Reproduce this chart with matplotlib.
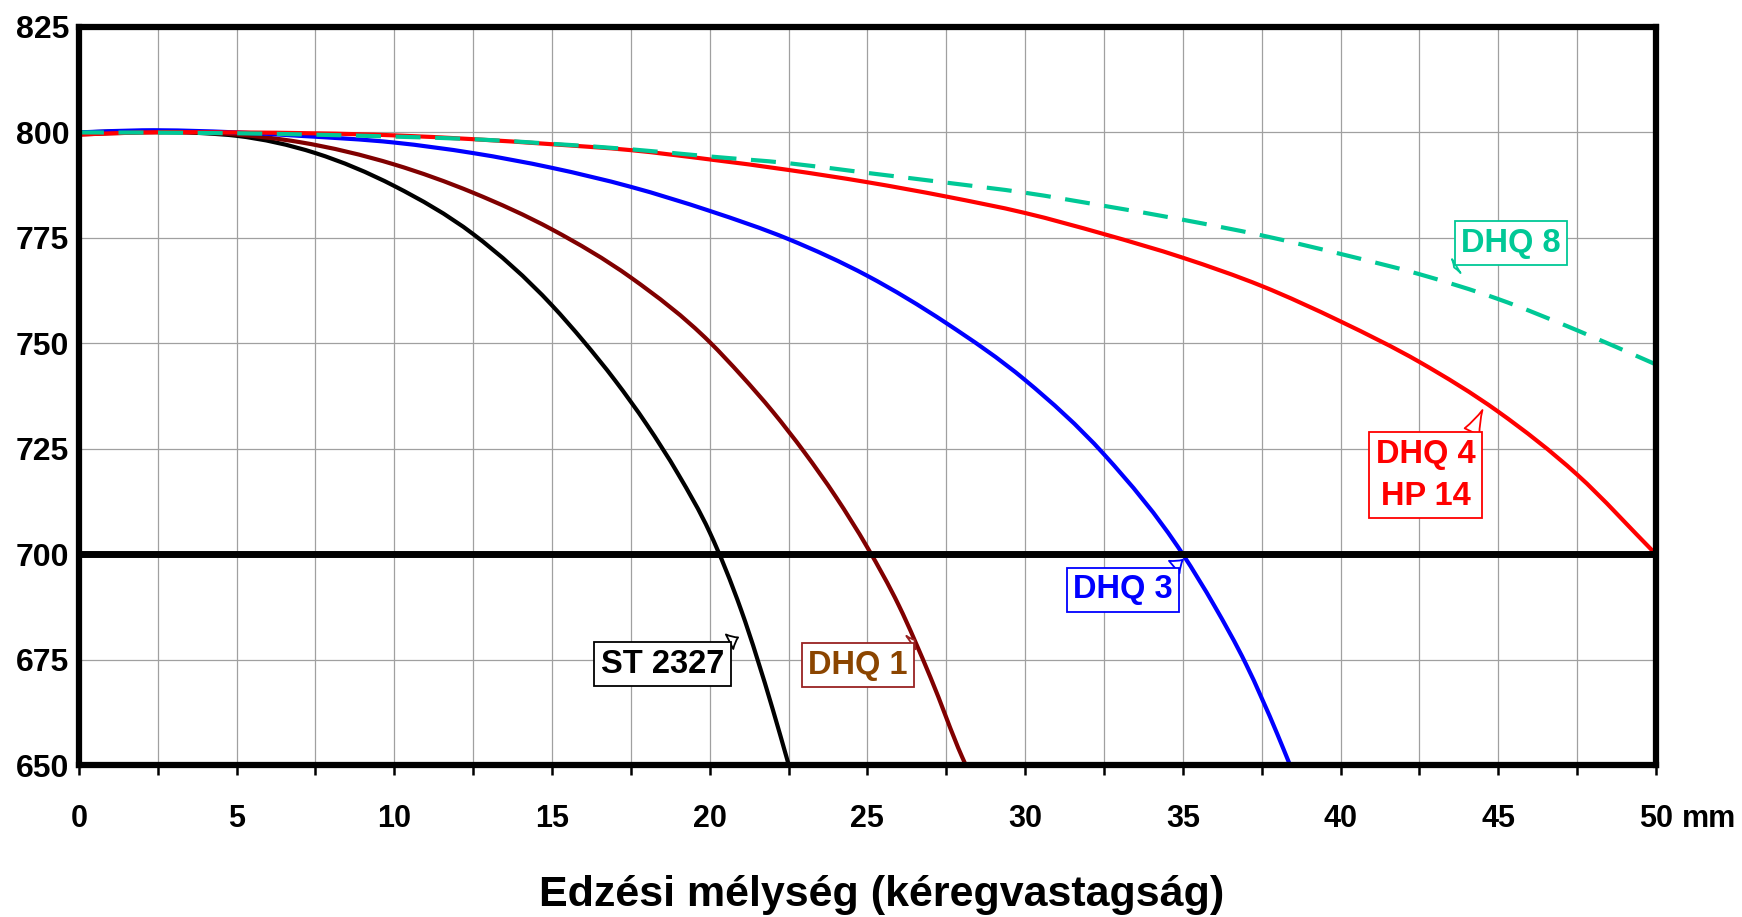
import matplotlib
matplotlib.use("Agg")
import matplotlib.pyplot as plt
import numpy as np
from matplotlib.path import Path
from matplotlib.patches import PathPatch
from matplotlib.ticker import MultipleLocator

plt.rcParams['font.family'] = ['Liberation Sans', 'DejaVu Sans']
plt.rcParams['font.weight'] = 'bold'

# depth in mm, hardness values
st_x = [0, 2, 4, 5, 7.5, 10, 12.5, 15, 16, 17, 18, 19, 20, 21, 22, 22.5]
st_y = [800, 800.3, 799.8, 799.2, 795.1, 787.3, 775.9, 759.0, 750.5, 741.2, 730.8, 719.0, 705.2, 686.7, 663.2, 650.2]

dhq1_x = [0, 2, 5, 7, 10, 12.5, 15, 17.5, 20, 21, 22, 23, 24, 25, 26, 27, 28, 28.12]
dhq1_y = [799.5, 800, 799.5, 797.7, 792.4, 785.7, 777, 765.6, 750.3, 742.4, 733.8, 724.2, 713.6, 701.6,
          687.8, 670.8, 652, 650]

dhq3_x = [0, 2, 5, 7, 10, 12.5, 15, 17.5, 20, 22.5, 25, 27.5, 30, 32.5, 35, 36, 37, 38, 38.4]
dhq3_y = [800, 800.5, 800, 799.2, 797.6, 795.1, 791.6, 787.1, 781.4, 774.7, 766, 754.8, 741.3, 723.7, 700,
          687.8, 674, 657.3, 650]

dhq4_x = [0, 2, 5, 10, 12.5, 15, 17.5, 20, 22.5, 25, 27.5, 30, 32.5, 35, 37.5, 40, 42.5, 45, 47.5, 50]
dhq4_y = [799.5, 800, 800, 799.3, 798.4, 797.2, 795.8, 793.6, 791.1, 788.2, 784.8, 780.9, 775.9, 770.3,
          763.6, 755.2, 745.6, 733.8, 718.9, 700]

dhq8_x = [0, 5, 10, 12.5, 15, 17.5, 20, 22.5, 25, 27.5, 30, 32.5, 35, 37.5, 40, 42.5, 45, 47.5, 50]
dhq8_y = [800, 799.8, 799, 798.4, 797.3, 796, 794.3, 792.7, 790.4, 788.1, 785.7, 782.6, 779.3, 775.6, 771.2,
          766.4, 760.5, 753.1, 745]

limit = 700
x_ticks = [0, 5, 10, 15, 20, 25, 30, 35, 40, 45, 50]
y_ticks = [650, 675, 700, 725, 750, 775, 800, 825]

teal = '#00C896'


def smooth_line(ax, xs, ys, **kw):
    # smoothed line: bezier segments through the points, tangents from neighbouring slopes
    x = np.asarray(xs, float)
    y = np.asarray(ys, float)
    h = np.diff(x)
    d = np.diff(y) / h
    m = np.empty_like(x)
    m[0], m[-1] = d[0], d[-1]
    m[1:-1] = (d[:-1] * h[1:] + d[1:] * h[:-1]) / (h[:-1] + h[1:])
    verts = [(x[0], y[0])]
    codes = [Path.MOVETO]
    for i in range(len(x) - 1):
        k = h[i] / 3
        verts += [(x[i] + k, y[i] + k * m[i]), (x[i + 1] - k, y[i + 1] - k * m[i + 1]), (x[i + 1], y[i + 1])]
        codes += [Path.CURVE4] * 3
    ax.add_patch(PathPatch(Path(verts, codes), fill=False, capstyle='butt', **kw))


fig = plt.figure(figsize=(17.42, 9.17), dpi=100)
ax = fig.add_axes([0.0453, 0.1655, 0.9053, 0.8051])

smooth_line(ax, st_x, st_y, ec='black', lw=3)
smooth_line(ax, dhq1_x, dhq1_y, ec='#800000', lw=3)
smooth_line(ax, dhq3_x, dhq3_y, ec='#0000FF', lw=3)
smooth_line(ax, dhq4_x, dhq4_y, ec='#FF0000', lw=3)
smooth_line(ax, dhq8_x, dhq8_y, ec=teal, lw=3, ls=(0, (6, 3.5)))
ax.axhline(limit, color='black', lw=5, zorder=4)

ax.set_xlim(0, 50)
ax.set_ylim(650, 825)
ax.set_xticks(x_ticks)
ax.set_yticks(y_ticks)
ax.xaxis.set_minor_locator(MultipleLocator(2.5))
ax.grid(True, which='major', color='#A0A0A0', lw=0.9)
ax.grid(True, which='minor', axis='x', color='#A0A0A0', lw=0.9)
ax.set_axisbelow(True)
ax.tick_params(axis='x', which='both', direction='out', length=7, width=1.8, pad=21, labelsize=22)
ax.tick_params(axis='y', which='both', length=0, pad=7, labelsize=23)
for lab in ax.get_xticklabels() + ax.get_yticklabels():
    lab.set_fontweight('bold')
for sp in ax.spines.values():
    sp.set_linewidth(4.5)
    sp.set_zorder(5)

ax.annotate('mm', xy=(50, 0), xycoords=('data', 'axes fraction'),
            xytext=(19, -28), textcoords='offset points',
            ha='left', va='top', fontsize=22, fontweight='bold')


def callout(txt, center, tip, tcol, ecol, corner):
    ax.annotate(txt, xy=tip, xytext=center, ha='center', va='center',
                fontsize=23.5, fontweight='bold', color=tcol, linespacing=1.45,
                bbox=dict(boxstyle='square,pad=0.2', fc='white', ec=ecol, lw=1.3),
                arrowprops=dict(arrowstyle='wedge,tail_width=0.5,shrink_factor=0.4',
                                fc='white', ec=ecol, lw=1.3, relpos=corner,
                                shrinkA=0, shrinkB=0),
                zorder=6)


callout('ST 2327', (18.5, 673.9), (20.9, 680.3), 'black', 'black', (0.93, 1))
callout('DHQ 1', (24.7, 673.7), (26.5, 679.7), '#8B4500', '#992222', (0.93, 1))
callout('DHQ 3', (33.1, 691.6), (35.0, 698.7), '#0000FF', '#0000FF', (0.93, 1))
callout('DHQ 4\nHP 14', (42.7, 718.7), (44.5, 734.2), '#FF0000', '#FF0000', (0.93, 1))
callout('DHQ 8', (45.4, 773.7), (43.6, 768.0), teal, teal, (0.07, 0))

fig.text(0.506, 0.012, 'Edzési mélység (kéregvastagság)', ha='center', va='baseline',
         fontsize=31, fontweight='bold',
         family=['Liberation Sans Narrow', 'Liberation Sans', 'DejaVu Sans'])

fig.savefig('out.png', dpi=100)
